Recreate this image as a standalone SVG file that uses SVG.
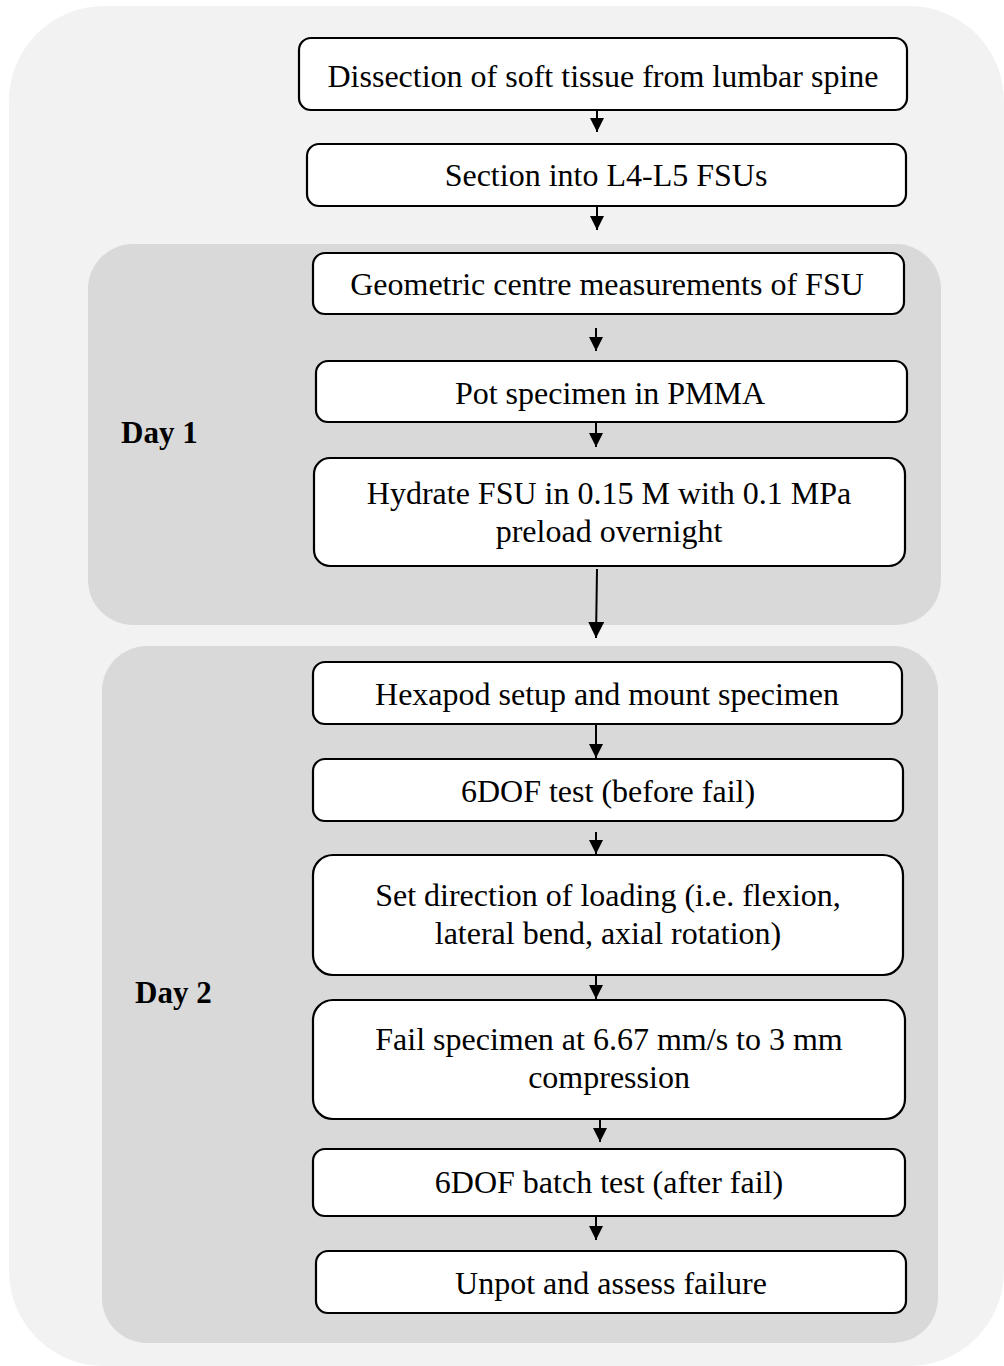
<svg xmlns="http://www.w3.org/2000/svg" width="1004" height="1366" viewBox="0 0 1004 1366">
<style>
.node rect{fill:#ffffff;stroke:#000000;stroke-width:2.2}
.node text{font-family:"Liberation Serif","Times New Roman",serif;font-size:32px;fill:#000000;text-anchor:middle}
.lbl{font-family:"Liberation Serif","Times New Roman",serif;font-size:31px;font-weight:bold;fill:#000000}
.conn line{stroke:#000000;stroke-width:2}
</style>
<defs>
<marker id="ah" viewBox="0 0 14 14" refX="14" refY="7" markerWidth="14" markerHeight="14" markerUnits="userSpaceOnUse" orient="auto">
<path d="M0,0 L14,7 L0,14 Z" fill="#000000"/>
</marker>
<marker id="ahb" viewBox="0 0 16 16" refX="16" refY="8" markerWidth="16" markerHeight="16" markerUnits="userSpaceOnUse" orient="auto">
<path d="M0,0 L16,8 L0,16 Z" fill="#000000"/>
</marker>
</defs>
<rect id="outer" x="9" y="6" width="995" height="1360" rx="95" ry="95" fill="#f2f2f2"/>
<g id="day1-panel">
<rect x="88" y="244" width="853" height="381" rx="45" ry="45" fill="#d9d9d9"/>
<text class="lbl" x="121" y="443">Day 1</text>
</g>
<g id="day2-panel">
<rect x="102" y="646" width="836" height="697" rx="45" ry="45" fill="#d9d9d9"/>
<text class="lbl" x="135" y="1003">Day 2</text>
</g>
<g id="n1" class="node"><rect x="299" y="38" width="608" height="72" rx="12"/><text x="603" y="87">Dissection of soft tissue from lumbar spine</text></g>
<g id="n2" class="node"><rect x="307" y="144" width="599" height="62" rx="12"/><text x="606" y="186">Section into L4-L5 FSUs</text></g>
<g id="n3" class="node"><rect x="313" y="253" width="591" height="61" rx="12"/><text x="607" y="295">Geometric centre measurements of FSU</text></g>
<g id="n4" class="node"><rect x="316" y="361" width="591" height="61" rx="12"/><text x="610" y="404">Pot specimen in PMMA</text></g>
<g id="n5" class="node"><rect x="314" y="458" width="591" height="108" rx="16"/><text x="609" y="504">Hydrate FSU in 0.15 M with 0.1 MPa</text><text x="609" y="542">preload overnight</text></g>
<g id="n6" class="node"><rect x="313" y="662" width="589" height="62" rx="12"/><text x="607" y="705">Hexapod setup and mount specimen</text></g>
<g id="n7" class="node"><rect x="313" y="759" width="590" height="62" rx="12"/><text x="608" y="802">6DOF test (before fail)</text></g>
<g id="n8" class="node"><rect x="313" y="855" width="590" height="120" rx="20"/><text x="608" y="906">Set direction of loading (i.e. flexion,</text><text x="608" y="944">lateral bend, axial rotation)</text></g>
<g id="n9" class="node"><rect x="313" y="1000" width="592" height="119" rx="20"/><text x="609" y="1050">Fail specimen at 6.67 mm/s to 3 mm</text><text x="609" y="1088">compression</text></g>
<g id="n10" class="node"><rect x="313" y="1149" width="592" height="67" rx="12"/><text x="609" y="1193">6DOF batch test (after fail)</text></g>
<g id="n11" class="node"><rect x="316" y="1251" width="590" height="62" rx="12"/><text x="611" y="1294">Unpot and assess failure</text></g>
<g id="connectors" class="conn">
<line x1="597" y1="110" x2="597" y2="132" marker-end="url(#ah)"/>
<line x1="597" y1="206" x2="597" y2="230" marker-end="url(#ah)"/>
<line x1="596" y1="328" x2="596" y2="351" marker-end="url(#ah)"/>
<line x1="596" y1="422" x2="596" y2="447" marker-end="url(#ah)"/>
<line x1="597" y1="569" x2="596" y2="638" marker-end="url(#ahb)"/>
<line x1="596" y1="724" x2="596" y2="758" marker-end="url(#ah)"/>
<line x1="596" y1="832" x2="596" y2="854" marker-end="url(#ah)"/>
<line x1="596" y1="975" x2="596" y2="999" marker-end="url(#ah)"/>
<line x1="600" y1="1119" x2="600" y2="1142" marker-end="url(#ah)"/>
<line x1="596" y1="1216" x2="596" y2="1240" marker-end="url(#ah)"/>
</g>
</svg>
